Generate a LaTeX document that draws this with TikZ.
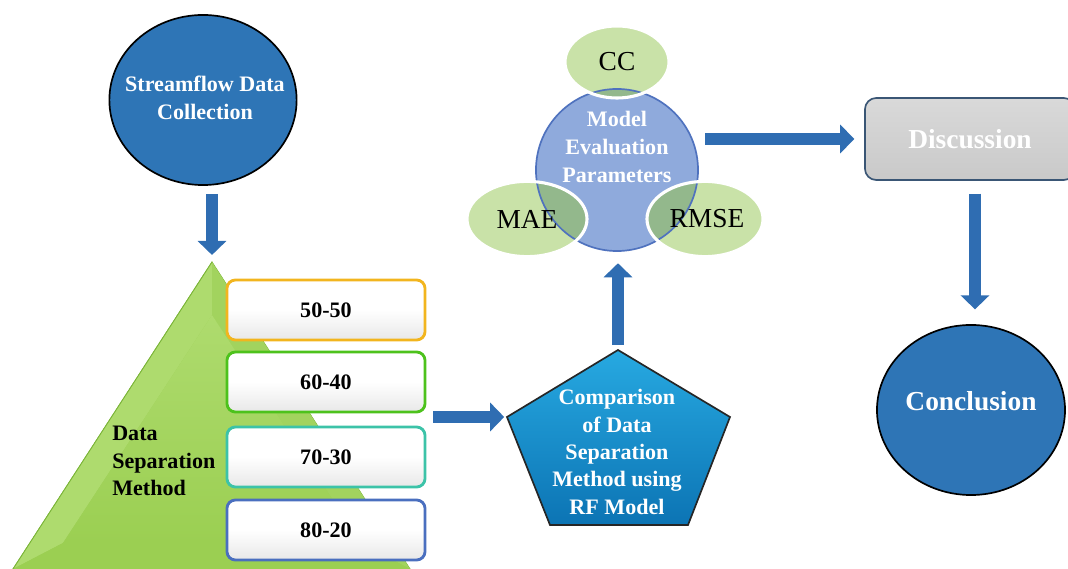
\documentclass[tikz,border=0pt]{standalone}
\usepackage{fontspec}
\setmainfont{Liberation Serif}
\usetikzlibrary{shapes.geometric,arrows.meta}

\definecolor{flowblue}{HTML}{2E75B6}
\definecolor{arrowblue}{HTML}{2F6DB2}
\definecolor{evalblue}{HTML}{8FAADC}
\definecolor{evalrim}{HTML}{4F72BE}
\definecolor{metricgreen}{HTML}{C9E2A8}
\definecolor{overlapgreen}{HTML}{93B88C}
\definecolor{pyrlight}{HTML}{AEDB6E}
\definecolor{pyrmid}{HTML}{9BCF52}
\definecolor{pyrdark}{HTML}{A2D35E}
\definecolor{pyredge}{HTML}{7AB437}
\definecolor{rimgold}{HTML}{F2B51E}
\definecolor{rimgreen}{HTML}{4DC21C}
\definecolor{rimteal}{HTML}{3CC3A8}
\definecolor{rimblue}{HTML}{4A6FBF}
\definecolor{pentatop}{HTML}{27A9E1}
\definecolor{pentabot}{HTML}{0C74B4}
\definecolor{discgrey}{HTML}{C9C9C9}
\definecolor{discrim}{HTML}{3A5675}

\begin{document}
\begin{tikzpicture}
[
	x					= 0.025cm,
	y					= -0.025cm,
	bigtext/.style		=
	{
		font			= \fontsize{15.7}{19.5}\selectfont\bfseries,
		align			= center,
		inner sep		= 0pt
	},
	wtext/.style		= {bigtext, text = white},
	headtext/.style		=
	{
		font			= \fontsize{19.5}{23}\selectfont\bfseries,
		text			= white,
		inner sep		= 0pt
	},
	metric/.style		= {ellipse, fill = metricgreen, inner sep = 0pt},
	metrictext/.style	= {font = \fontsize{19.5}{23}\selectfont, inner sep = 0pt},
	bluedisc/.style		=
	{
		ellipse,
		draw			= black,
		line width		= 1.2pt,
		fill			= flowblue,
		inner sep		= 0pt
	},
	ratio/.style		=
	{
		bigtext,
		rounded corners	= 6pt,
		line width		= 2pt,
		minimum width	= 4.95cm,
		minimum height	= 1.5cm,
		top color		= white,
		bottom color	= black!9,
		middle color	= white
	},
	fat/.style			=
	{
		draw			= arrowblue,
		line width		= 9pt,
		-{Triangle[width = 20pt, length = 10pt]}
	},
]

\useasboundingbox (0,0) rectangle (1068,569);

% pyramid with bevelled faces
\coordinate (apex) at (212,262);
\coordinate (inapex) at (212,315);
\fill [pyrmid, draw = pyredge, line width = 0.6pt] (apex) -- (13,569) -- (410,569) -- cycle;
\fill [pyrlight] (apex) -- (13,569) -- (63,543) -- (inapex) -- cycle;
\fill [pyrdark] (apex) -- (inapex) -- (361,543) -- (410,569) -- cycle;
\fill [pyrmid] (13,569) -- (63,543) -- (361,543) -- (410,569) -- cycle;
\path [top color = pyrlight, bottom color = pyrmid] (inapex) -- (63,543) -- (361,543) -- cycle;
\draw [pyredge, line width = 0.6pt] (apex) -- (13,569);

\node [bigtext, align = left, anchor = west] (dsm) at (112,461) {Data\\Separation\\Method};

% the four split ratios
\node [ratio, draw = rimgold]	(r5050) at (326,310) {50-50};
\node [ratio, draw = rimgreen]	(r6040) at (326,382) {60-40};
\node [ratio, draw = rimteal]	(r7030) at (326,457) {70-30};
\node [ratio, draw = rimblue]	(r8020) at (326,530) {80-20};

% first step
\node [bluedisc, minimum width = 4.68cm, minimum height = 4.25cm] (sdc) at (203,100) {};
\node [wtext] (sdc-t) at (205,98) {Streamflow Data\\Collection};

% pentagon
\coordinate (ptop) at (618,350);
\coordinate (pright) at (730,417);
\coordinate (pbr) at (688,525);
\coordinate (pbl) at (550,525);
\coordinate (pleft) at (507,417);
\path [top color = pentatop, bottom color = pentabot, draw = black!85, line width = 1.2pt]
	(ptop) -- (pright) -- (pbr) -- (pbl) -- (pleft) -- cycle;
\node [wtext] (cmp) at (617,452) {Comparison\\of Data\\Separation\\Method using\\RF Model};

% evaluation circle and its metrics
\node [circle, minimum size = 4.05cm, fill = evalblue, inner sep = 0pt] (mep) at (617,170) {};
\node [metric, minimum width = 2.6cm, minimum height = 1.8cm]	(cc)	at (617,62)	{};
\node [metric, minimum width = 3.0cm, minimum height = 1.88cm]	(mae)	at (527,219) {};
\node [metric, minimum width = 2.9cm, minimum height = 1.88cm]	(rmse)	at (705,219) {};
\begin{scope}
	\clip (mep.center) circle [radius = 2.025cm];
	\fill [overlapgreen] (cc.center) ellipse [x radius = 1.3cm, y radius = 0.9cm];
	\fill [overlapgreen] (mae.center) ellipse [x radius = 1.5cm, y radius = 0.94cm];
	\fill [overlapgreen] (rmse.center) ellipse [x radius = 1.45cm, y radius = 0.94cm];
\end{scope}
\draw [evalrim, line width = 1.2pt] (mep.center) circle [radius = 2.025cm];
\draw [white, line width = 2.2pt] (cc.center) ellipse [x radius = 1.3cm, y radius = 0.9cm];
\draw [white, line width = 2.2pt] (mae.center) ellipse [x radius = 1.5cm, y radius = 0.94cm];
\draw [white, line width = 2.2pt] (rmse.center) ellipse [x radius = 1.45cm, y radius = 0.94cm];
\node [metrictext] (cc-t) at (cc) {CC};
\node [metrictext] (mae-t) at (mae) {MAE};
\node [metrictext] (rmse-t) at (707,219) {RMSE};
\node [wtext, font = \fontsize{15.7}{20}\selectfont\bfseries] (mep-t) at (617,147) {Model\\Evaluation\\Parameters};

% last steps
\node [rounded corners = 8pt, draw = discrim, line width = 1.2pt, top color = discgrey!70, bottom color = discgrey,
	minimum width = 5.25cm, minimum height = 2.05cm, headtext] (disc) at (970,139) {Discussion};
\node [bluedisc, minimum width = 4.7cm, minimum height = 4.25cm] (concl) at (971,410) {};
\node [headtext] (concl-t) at (971,401) {Conclusion};

% arrows
\draw [fat, shorten < = 5.7pt, shorten > = 5pt] (sdc.south -| apex) -- (apex);
\draw [fat, shorten < = 5pt, shorten > = 2pt] (r6040.east |- pleft) -- (pleft);
\draw [fat, shorten < = 3.5pt, shorten > = 8.5pt] (ptop) -- (mep.south -| ptop);
\draw [fat, shorten < = 5pt, shorten > = 7pt] (mep.east |- disc.west) -- (disc.west);
\draw [fat, shorten < = 9pt, shorten > = 10.5pt] (disc.south -| 975,0) -- (concl.north -| 975,0);

\end{tikzpicture}
\end{document}
